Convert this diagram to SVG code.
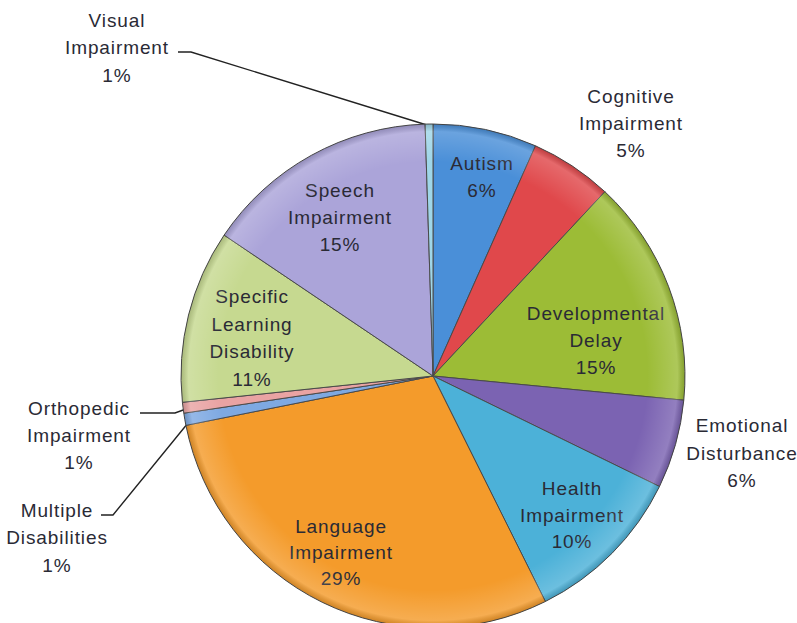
<svg xmlns="http://www.w3.org/2000/svg" width="797" height="623" viewBox="0 0 797 623">
<style>
.slice{stroke:#4a4a4a;stroke-width:1;stroke-linejoin:round}
.lbl{font-family:"Liberation Sans",Arial,sans-serif;font-size:19px;letter-spacing:0.9px;fill:#2a2a35;text-anchor:middle}
.lead{fill:none;stroke:#222;stroke-width:1.4}
</style>
<defs>
<radialGradient id="sheen" cx="433" cy="376" r="252" gradientUnits="userSpaceOnUse">
<stop offset="0.85" stop-color="#fff" stop-opacity="0"/>
<stop offset="0.97" stop-color="#fff" stop-opacity="0.18"/>
<stop offset="1" stop-color="#000" stop-opacity="0.15"/>
</radialGradient>
</defs>
<rect width="797" height="623" fill="#fff"/>
<g id="connectors">
<polyline class="lead" points="178,52 191,52 430,126"/>
<polyline class="lead" points="140,413 175,413 186,409"/>
<polyline class="lead" points="101,515 113,515 188,423"/>
</g>
<g id="autism">
<path class="slice" fill="#4a8fd8" d="M433,376 L433,124 A252,252 0 0 1 535.5,145.8 Z"/>
<text class="lbl" x="482" y="170">Autism</text>
<text class="lbl" x="482" y="197">6%</text>
</g>
<g id="cognitive">
<path class="slice" fill="#e0484b" d="M433,376 L535.5,145.8 A252,252 0 0 1 604.9,191.7 Z"/>
<text class="lbl" x="631" y="103">Cognitive</text>
<text class="lbl" x="631" y="130">Impairment</text>
<text class="lbl" x="631" y="157">5%</text>
</g>
<g id="developmental">
<path class="slice" fill="#9cbc36" d="M433,376 L604.9,191.7 A252,252 0 0 1 683.8,400.2 Z"/>
<text class="lbl" x="596" y="320">Developmental</text>
<text class="lbl" x="596" y="347">Delay</text>
<text class="lbl" x="596" y="374">15%</text>
</g>
<g id="emotional">
<path class="slice" fill="#7b63b2" d="M433,376 L683.8,400.2 A252,252 0 0 1 659.5,486.5 Z"/>
<text class="lbl" x="742" y="432">Emotional</text>
<text class="lbl" x="742" y="460">Disturbance</text>
<text class="lbl" x="742" y="487">6%</text>
</g>
<g id="health">
<path class="slice" fill="#4cb1d8" d="M433,376 L659.5,486.5 A252,252 0 0 1 545.4,601.5 Z"/>
<text class="lbl" x="572" y="495">Health</text>
<text class="lbl" x="572" y="522">Impairment</text>
<text class="lbl" x="572" y="548">10%</text>
</g>
<g id="language">
<path class="slice" fill="#f49b2b" d="M433,376 L545.4,601.5 A252,252 0 0 1 185.9,425.4 Z"/>
<text class="lbl" x="341" y="533">Language</text>
<text class="lbl" x="341" y="559">Impairment</text>
<text class="lbl" x="341" y="585">29%</text>
</g>
<g id="multiple">
<path class="slice" fill="#7ea9e2" d="M433,376 L185.9,425.4 A252,252 0 0 1 183.8,413.2 Z"/>
<text class="lbl" x="57" y="517">Multiple</text>
<text class="lbl" x="57" y="544">Disabilities</text>
<text class="lbl" x="57" y="572">1%</text>
</g>
<g id="orthopedic">
<path class="slice" fill="#e9a3a3" d="M433,376 L183.8,413.2 A252,252 0 0 1 182.4,402.3 Z"/>
<text class="lbl" x="79" y="415">Orthopedic</text>
<text class="lbl" x="79" y="442">Impairment</text>
<text class="lbl" x="79" y="469">1%</text>
</g>
<g id="specific">
<path class="slice" fill="#c6d990" d="M433,376 L182.4,402.3 A252,252 0 0 1 224.1,235.1 Z"/>
<text class="lbl" x="252" y="303">Specific</text>
<text class="lbl" x="252" y="331">Learning</text>
<text class="lbl" x="252" y="358">Disability</text>
<text class="lbl" x="252" y="386">11%</text>
</g>
<g id="speech">
<path class="slice" fill="#aba4d9" d="M433,376 L224.1,235.1 A252,252 0 0 1 425.1,124.1 Z"/>
<text class="lbl" x="340" y="197">Speech</text>
<text class="lbl" x="340" y="224">Impairment</text>
<text class="lbl" x="340" y="251">15%</text>
</g>
<g id="visual">
<path class="slice" fill="#9fd6e8" d="M433,376 L425.1,124.1 A252,252 0 0 1 433,124 Z"/>
<text class="lbl" x="117" y="27">Visual</text>
<text class="lbl" x="117" y="54">Impairment</text>
<text class="lbl" x="117" y="82">1%</text>
</g>
<circle cx="433" cy="376" r="252" fill="url(#sheen)" pointer-events="none"/>
</svg>
